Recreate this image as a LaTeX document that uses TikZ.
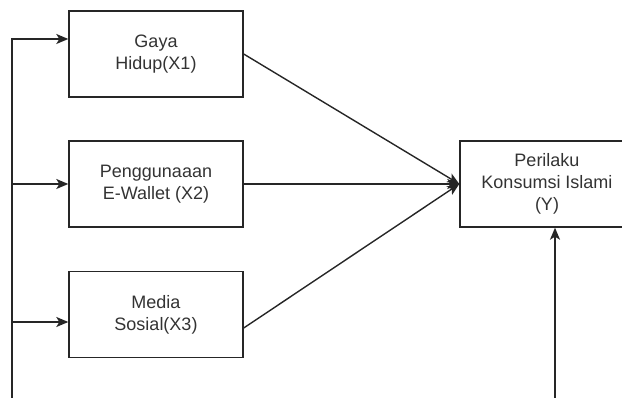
\documentclass[tikz,border=0pt]{standalone}
\usepackage{fontspec}
\setmainfont{Liberation Sans}
\usetikzlibrary{arrows.meta}
\begin{document}
\begin{tikzpicture}[x=1pt, y=-1pt, line width=1.4pt, draw=black!85,
  box/.style={draw, minimum width=174pt, minimum height=86pt, align=center,
    font=\fontsize{18}{22}\selectfont, text=black!80},
  >={Stealth[length=12pt, width=10pt, inset=3pt]}]
\useasboundingbox (0,0) rectangle (622,398);
\clip (0,0) rectangle (622,398);
\draw(156,54) node[box] (gaya) {Gaya\\Hidup(X1)};
\draw(156,184) node[box] (ewallet) {Penggunaaan\\E-Wallet (X2)};
\draw(156,314.5) node[box] (medsos) {Media\\Sosial(X3)};
\draw(547,184) node[box] (perilaku) {Perilaku\\Konsumsi Islami\\(Y)};
% left feeder line
\coordinate (kiri) at (12,398);
\coordinate (masuk3) at ([yshift=-7.5pt]medsos.west);
\draw[->] (kiri) |- ([yshift=15pt]gaya.west);
\draw[->] (kiri |- ewallet.west) -- (ewallet.west);
\draw[->] (kiri |- masuk3) -- (masuk3);
% paths to Y
\draw[->] (gaya.east) -- (perilaku.west);
\draw[->] (ewallet.east) -- (perilaku.west);
\draw[->] ([yshift=-13.5pt]medsos.east) -- (perilaku.west);
\coordinate (bawah) at (555,398);
\draw[->] (bawah) -- (bawah |- perilaku.south);
\end{tikzpicture}
\end{document}
